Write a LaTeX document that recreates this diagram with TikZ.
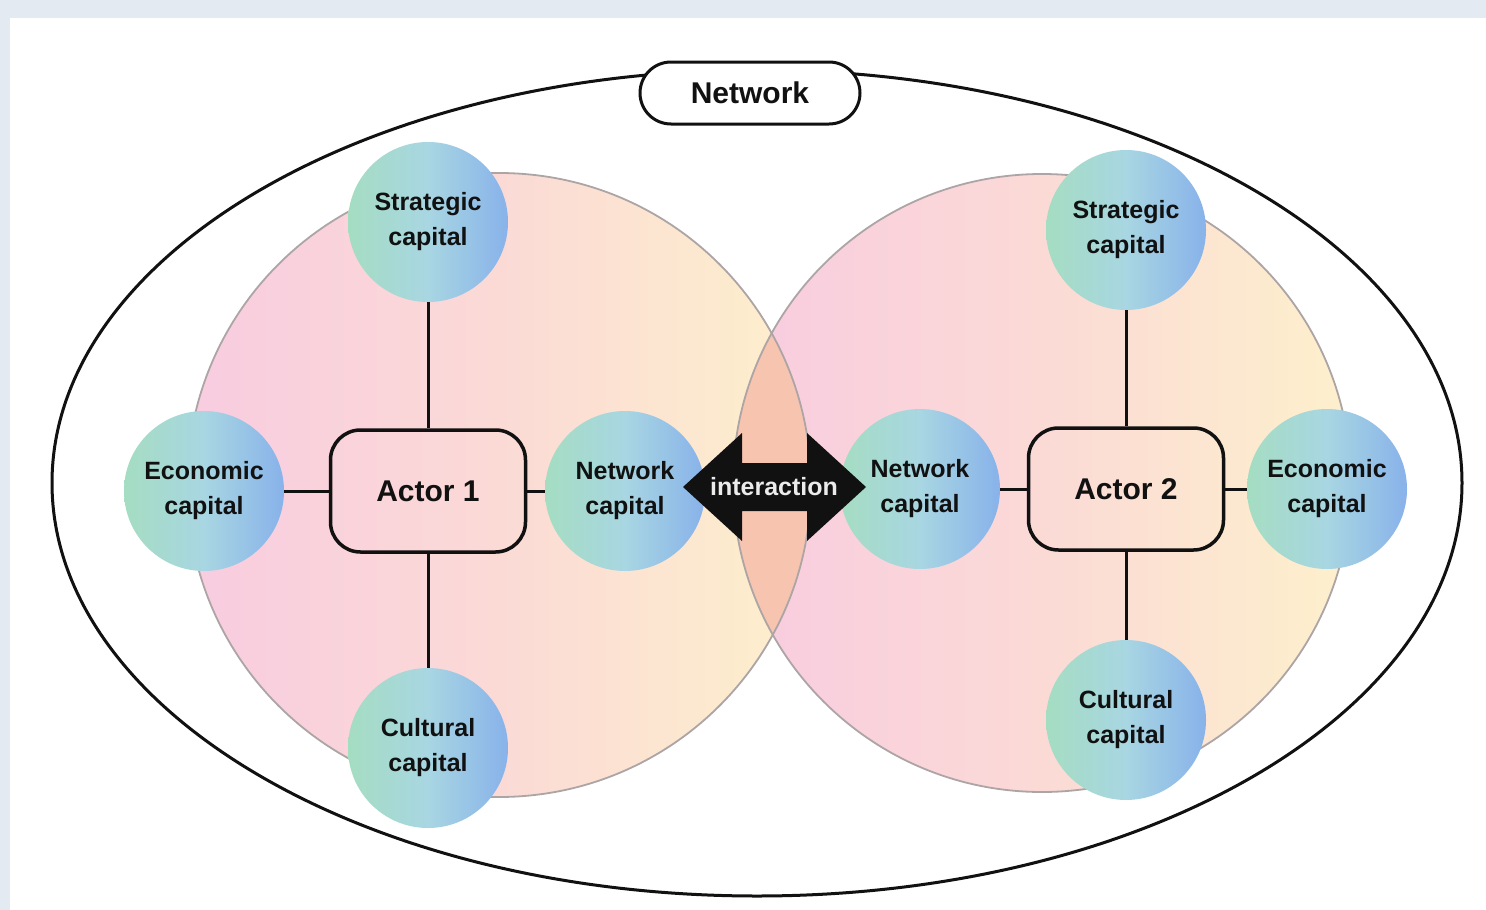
\documentclass[tikz,border=0pt]{standalone}
\usepackage{fontspec}
\setmainfont{Liberation Sans}
\definecolor{bgc}{HTML}{E4EAF2}
\definecolor{pinkc}{HTML}{F8CCE0}
\definecolor{peachc}{HTML}{FBDAD6}
\definecolor{creamc}{HTML}{FDF0CC}
\definecolor{mintc}{HTML}{A5DDC2}
\definecolor{cyanc}{HTML}{A8D6E2}
\definecolor{bluec}{HTML}{88B2EA}
\definecolor{overlapc}{HTML}{F7C4B0}
\definecolor{rimc}{HTML}{ADA5A5}
\definecolor{inkc}{HTML}{111111}
\pgfdeclarehorizontalshading{bigc}{100bp}{color(0bp)=(pinkc); color(25bp)=(pinkc); color(50bp)=(peachc); color(75bp)=(creamc); color(100bp)=(creamc)}
\pgfdeclarehorizontalshading{smallc}{100bp}{color(0bp)=(mintc); color(25bp)=(mintc); color(50bp)=(cyanc); color(75bp)=(bluec); color(100bp)=(bluec)}
\begin{document}
\begin{tikzpicture}[x=1pt,y=-1pt,
  capnode/.style={circle,minimum size=160pt,inner sep=0pt,shading=smallc,align=center,
    font=\fontsize{25}{35}\selectfont\bfseries,text=inkc},
  actorbox/.style={draw=inkc,line width=3.5pt,rounded corners=30pt,minimum width=195pt,
    minimum height=122pt,font=\fontsize{30}{36}\selectfont\bfseries,text=inkc},
  link/.style={line width=3pt,draw=inkc},
  rim/.style={draw=rimc,line width=1.8pt}]
\fill[bgc] (0,0) rectangle (1486,910);
\fill[white] (10,18) rectangle (1486,910);
\useasboundingbox (0,0) rectangle (1486,910);
% outer network ellipse
\draw[line width=3pt,draw=inkc] (757,483) ellipse [x radius=705pt, y radius=413pt];
% big actor circles
\shade[shading=bigc] (499,485) circle (312pt);
\shade[shading=bigc] (1042,483) circle (309pt);
\begin{scope}
  \clip (499,485) circle (312pt);
  \fill[overlapc] (1042,483) circle (309pt);
\end{scope}
\draw[rim] (499,485) circle (312pt);
\draw[rim] (1042,483) circle (309pt);
% network label
\node[draw=inkc,fill=white,line width=3pt,rounded corners=31pt,minimum width=220pt,
  minimum height=62pt,font=\fontsize{30}{36}\selectfont\bfseries,text=inkc] (net) at (750,93) {Network};
% actor 1
\node[actorbox] (a1) at (428,491) {Actor 1};
\node[capnode] (s1) at (428,222) {Strategic\\capital};
\node[capnode] (e1) at (204,491) {Economic\\capital};
\node[capnode] (n1) at (625,491) {Network\\capital};
\node[capnode] (c1) at (428,748) {Cultural\\capital};
% actor 2
\node[actorbox] (a2) at (1126,489) {Actor 2};
\node[capnode] (s2) at (1126,230) {Strategic\\capital};
\node[capnode] (n2) at (920,489) {Network\\capital};
\node[capnode] (e2) at (1327,489) {Economic\\capital};
\node[capnode] (c2) at (1126,720) {Cultural\\capital};
% connectors
\draw[link] (a1) -- (s1);
\draw[link] (a1) -- (e1);
\draw[link] (a1) -- (n1);
\draw[link] (a1) -- (c1);
\draw[link] (a2) -- (s2);
\draw[link] (a2) -- (n2);
\draw[link] (a2) -- (e2);
\draw[link] (a2) -- (c2);
% interaction double arrow
\fill[inkc] (683,487) -- (742,433) -- (742,463) -- (807,463) -- (807,433) -- (866,487)
  -- (807,541) -- (807,511) -- (742,511) -- (742,541) -- cycle;
\node[font=\fontsize{25}{30}\selectfont\bfseries,text=white!92!black] (ia) at (774,487) {interaction};
\end{tikzpicture}
\end{document}
